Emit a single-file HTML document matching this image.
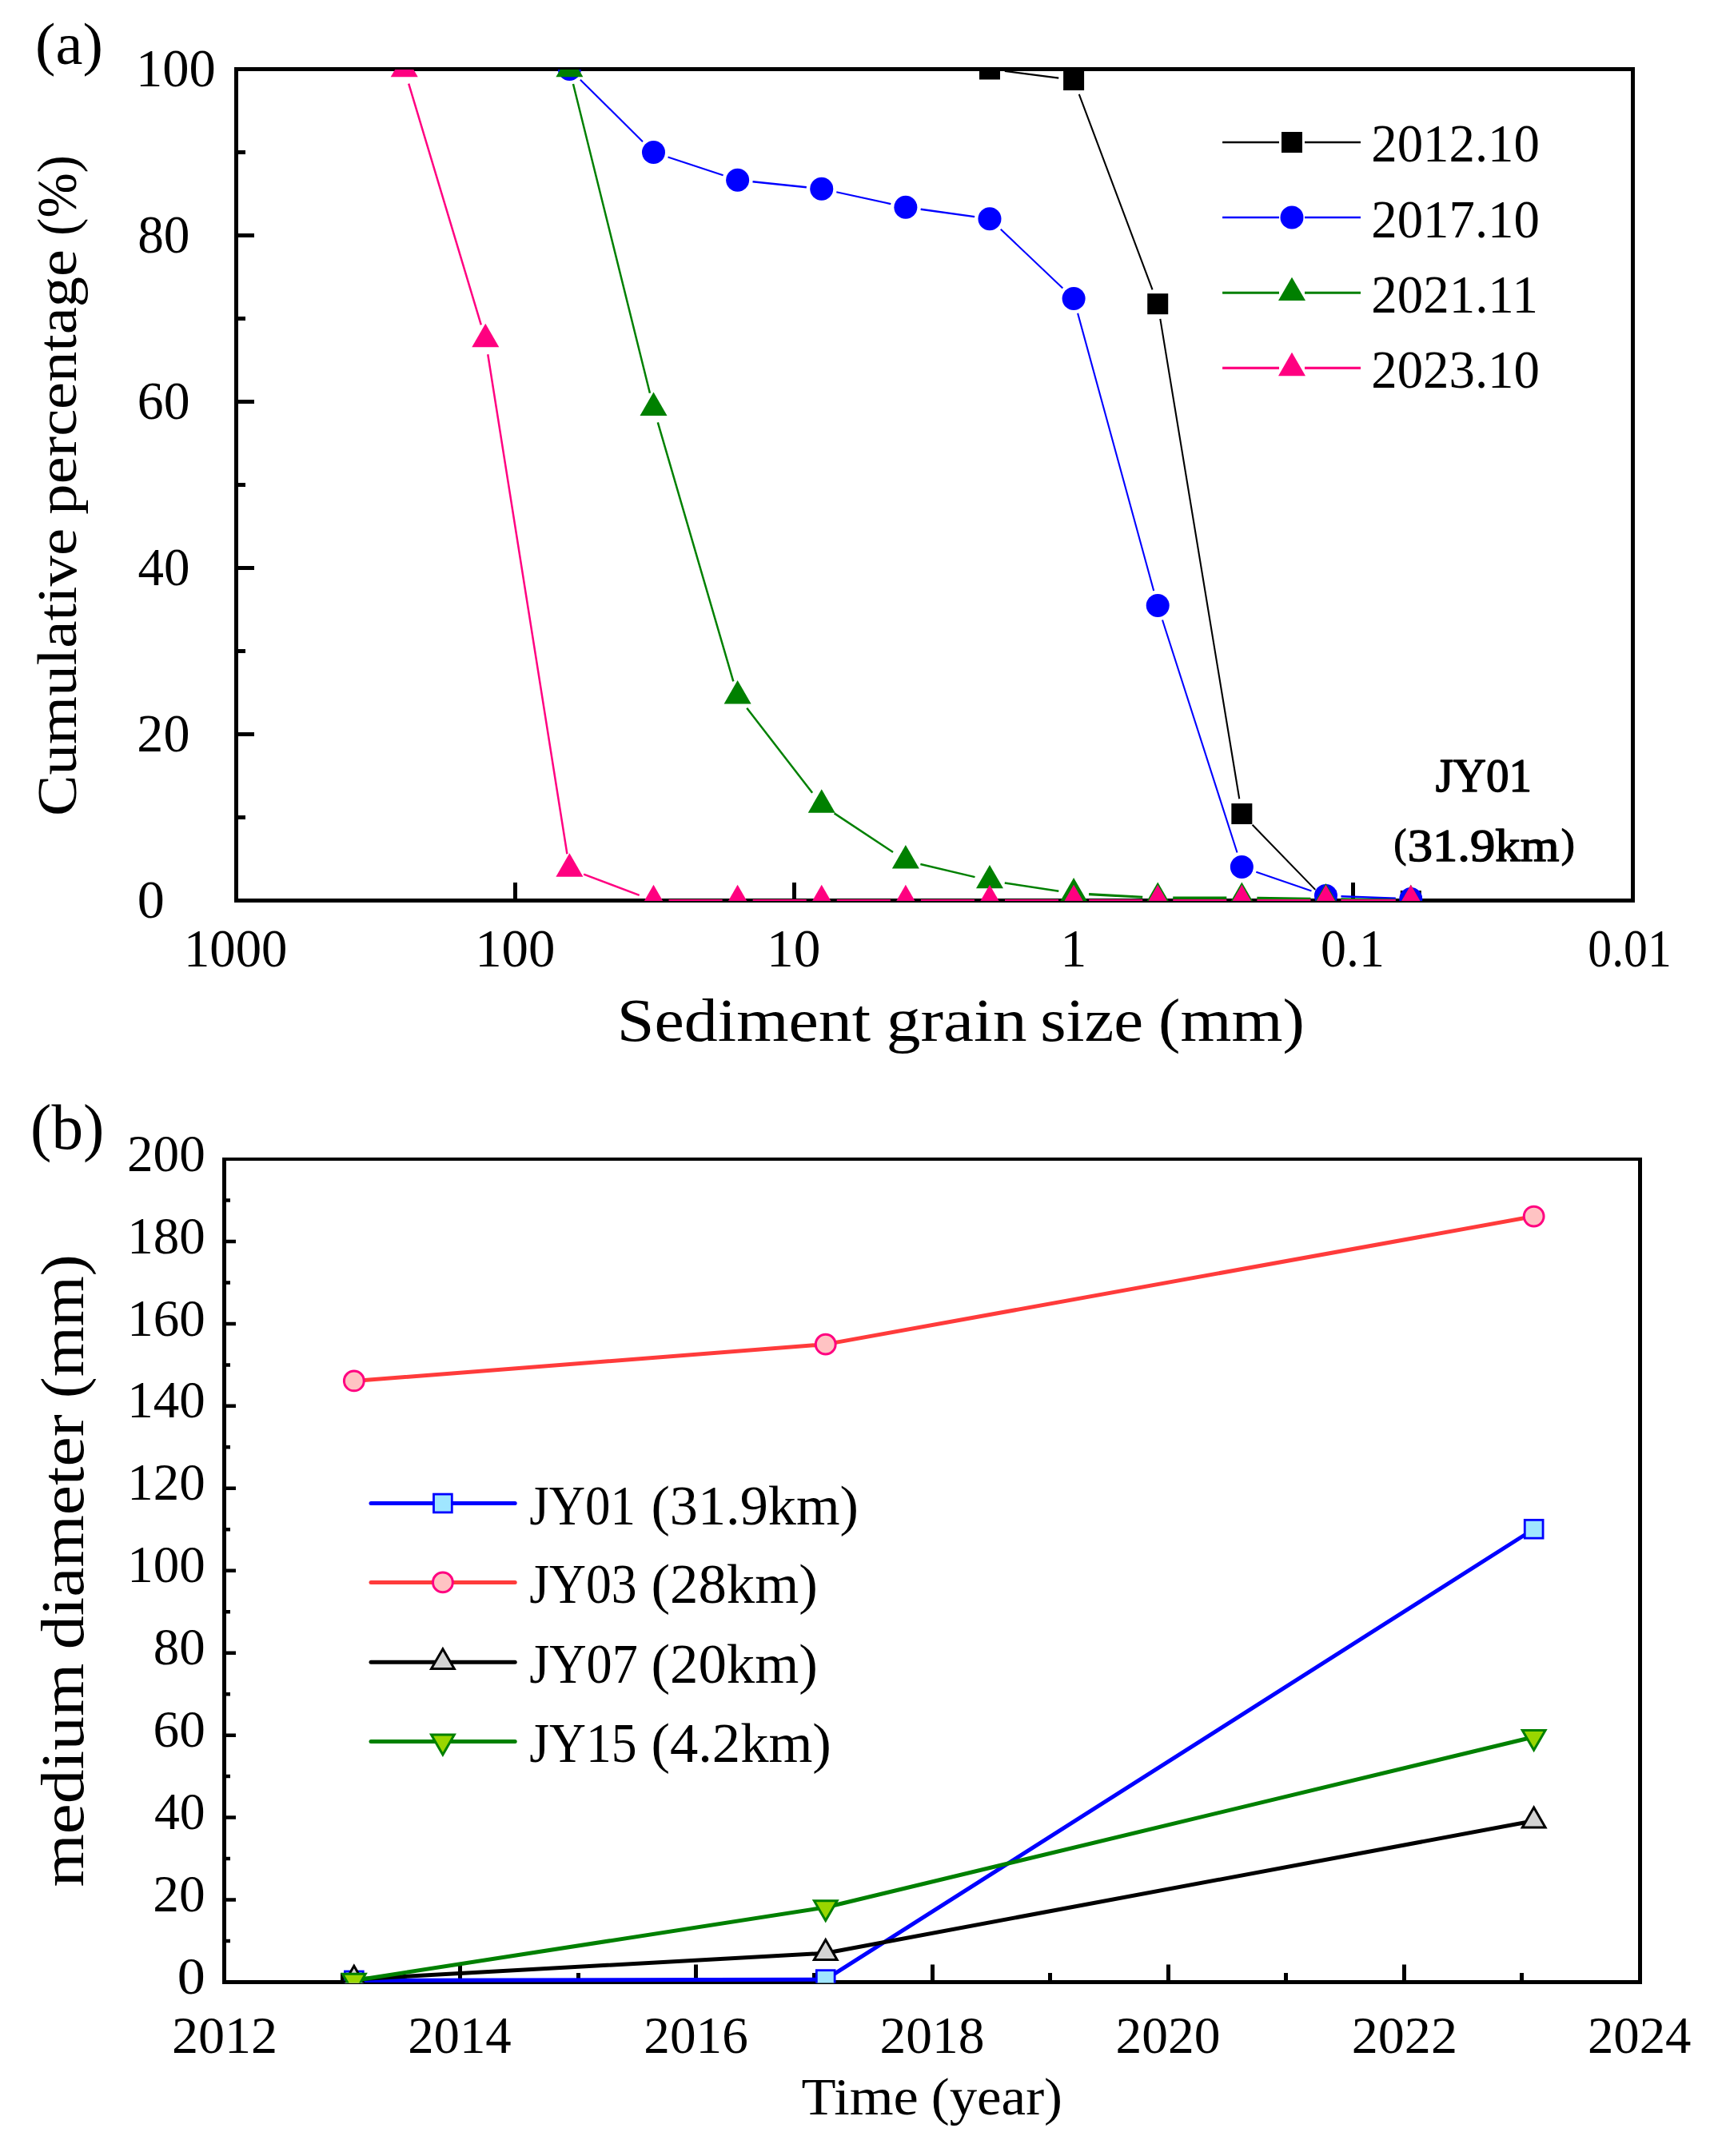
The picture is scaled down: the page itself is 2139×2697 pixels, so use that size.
<!DOCTYPE html><html><head><meta charset="utf-8"><title>Sediment grain size</title><style>html,body{margin:0;padding:0;background:#fff}svg{display:block}text{font-family:"Liberation Serif",serif;fill:#000}</style></head><body>
<svg width="2139" height="2697" viewBox="0 0 2139 2697">
<rect width="2139" height="2697" fill="#fff"/>
<defs><clipPath id="ca"><rect x="295.5" y="87" width="1747.0" height="1040"/></clipPath>
<clipPath id="cb"><rect x="280.5" y="1450.0" width="1771.0" height="1030.5"/></clipPath></defs>
<path d="M293 84H2045V1129H293ZM298 89V1124H2040V89Z" fill="#000" fill-rule="evenodd"/>
<path d="M295.5 1022.50H307.0M295.5 918.50H318.0M295.5 814.50H307.0M295.5 710.50H318.0M295.5 606.50H307.0M295.5 502.50H318.0M295.5 398.50H307.0M295.5 294.50H318.0M295.5 190.50H307.0M644.50 1126.5V1104M993.50 1126.5V1104M1343.50 1126.5V1104M1692.50 1126.5V1104" stroke="#000" stroke-width="5" fill="none"/>
<g clip-path="url(#ca)"><path d="M1349.77 117.81L1441.55 362.41M1451.31 398.94L1550.25 999.28M1566.56 1031.67L1645.24 1112.86" stroke="#000" stroke-width="2.1" fill="none"/><path d="M1256.83 88.92L1324.26 97.60M1677.46 1126.59L1745.80 1126.93" stroke="#000" stroke-width="2.3" fill="none"/>
<rect x="1224.98" y="73.50" width="26" height="26" fill="#000"/>
<rect x="1330.10" y="87.02" width="26" height="26" fill="#000"/>
<rect x="1435.22" y="367.20" width="26" height="26" fill="#000"/>
<rect x="1540.34" y="1005.03" width="26" height="26" fill="#000"/>
<rect x="1645.46" y="1113.50" width="26" height="26" fill="#000"/>
<rect x="1751.80" y="1114.02" width="26" height="26" fill="#000"/>
</g>
<g clip-path="url(#ca)"><path d="M725.89 99.86L803.99 177.14M835.54 196.48L904.59 219.36M1046.31 240.30L1114.30 255.10M1251.76 286.78L1329.32 360.46M1348.12 391.87L1443.20 739.08M1454.03 775.49L1547.53 1066.50M1571.32 1090.74L1640.48 1114.42" stroke="#0000FF" stroke-width="2.1" fill="none"/><path d="M941.52 227.30L1008.84 234.30M1151.68 261.75L1219.16 271.09M1677.45 1121.28L1745.81 1123.82" stroke="#0000FF" stroke-width="2.4" fill="none"/>
<circle cx="712.38" cy="86.50" r="14.5" fill="#0000FF"/>
<circle cx="817.50" cy="190.50" r="14.5" fill="#0000FF"/>
<circle cx="922.62" cy="225.34" r="14.5" fill="#0000FF"/>
<circle cx="1027.74" cy="236.26" r="14.5" fill="#0000FF"/>
<circle cx="1132.86" cy="259.14" r="14.5" fill="#0000FF"/>
<circle cx="1237.98" cy="273.70" r="14.5" fill="#0000FF"/>
<circle cx="1343.10" cy="373.54" r="14.5" fill="#0000FF"/>
<circle cx="1448.22" cy="757.40" r="14.5" fill="#0000FF"/>
<circle cx="1553.34" cy="1084.59" r="14.5" fill="#0000FF"/>
<circle cx="1658.46" cy="1120.57" r="14.5" fill="#0000FF"/>
<circle cx="1764.80" cy="1124.52" r="14.5" fill="#0000FF"/>
</g>
<g clip-path="url(#ca)"><path d="M716.96 104.94L812.93 491.76M822.82 528.44L917.30 852.42M934.23 885.70L1016.13 991.86M1043.58 1017.40L1117.02 1066.08M1151.35 1080.97L1219.49 1097.15M1256.76 1104.42L1324.32 1114.78" stroke="#008000" stroke-width="2.5" fill="none"/><path d="M1362.07 1118.65L1429.25 1122.18M1467.22 1123.17L1534.34 1123.17M1572.34 1123.42L1639.46 1124.28M1677.46 1124.88L1745.80 1126.15" stroke="#008000" stroke-width="3.1" fill="none"/>
<polygon points="712.38,66.87 695.38,96.31 729.38,96.31" fill="#008000"/>
<polygon points="817.50,490.57 800.50,520.01 834.50,520.01" fill="#008000"/>
<polygon points="922.62,851.03 905.62,880.47 939.62,880.47" fill="#008000"/>
<polygon points="1027.74,987.27 1010.74,1016.71 1044.74,1016.71" fill="#008000"/>
<polygon points="1132.86,1056.95 1115.86,1086.39 1149.86,1086.39" fill="#008000"/>
<polygon points="1237.98,1081.91 1220.98,1111.35 1254.98,1111.35" fill="#008000"/>
<polygon points="1343.10,1098.03 1326.10,1127.47 1360.10,1127.47" fill="#008000"/>
<polygon points="1448.22,1103.54 1431.22,1132.99 1465.22,1132.99" fill="#008000"/>
<polygon points="1553.34,1103.54 1536.34,1132.99 1570.34,1132.99" fill="#008000"/>
<polygon points="1658.46,1104.89 1641.46,1134.34 1675.46,1134.34" fill="#008000"/>
<polygon points="1764.80,1106.87 1747.80,1136.31 1781.80,1136.31" fill="#008000"/>
</g>
<g clip-path="url(#ca)"><path d="M511.21 104.70L601.80 406.30M610.24 443.27L709.40 1068.21M730.17 1093.67L799.72 1119.81" stroke="#FF0080" stroke-width="2.5" fill="none"/><path d="M836.50 1126.50L903.62 1126.50M941.62 1126.50L1008.74 1126.50M1046.74 1126.50L1113.86 1126.50M1151.86 1126.50L1218.98 1126.50M1256.98 1126.50L1324.10 1126.50M1362.10 1126.50L1429.22 1126.50M1467.22 1126.50L1534.34 1126.50M1572.34 1126.50L1639.46 1126.50M1677.46 1126.50L1745.80 1126.50" stroke="#FF0080" stroke-width="3.1" fill="none"/>
<polygon points="505.74,66.87 488.74,96.31 522.74,96.31" fill="#FF0080"/>
<polygon points="607.26,404.87 590.26,434.31 624.26,434.31" fill="#FF0080"/>
<polygon points="712.38,1067.35 695.38,1096.79 729.38,1096.79" fill="#FF0080"/>
<polygon points="817.50,1106.87 800.50,1136.31 834.50,1136.31" fill="#FF0080"/>
<polygon points="922.62,1106.87 905.62,1136.31 939.62,1136.31" fill="#FF0080"/>
<polygon points="1027.74,1106.87 1010.74,1136.31 1044.74,1136.31" fill="#FF0080"/>
<polygon points="1132.86,1106.87 1115.86,1136.31 1149.86,1136.31" fill="#FF0080"/>
<polygon points="1237.98,1106.87 1220.98,1136.31 1254.98,1136.31" fill="#FF0080"/>
<polygon points="1343.10,1106.87 1326.10,1136.31 1360.10,1136.31" fill="#FF0080"/>
<polygon points="1448.22,1106.87 1431.22,1136.31 1465.22,1136.31" fill="#FF0080"/>
<polygon points="1553.34,1106.87 1536.34,1136.31 1570.34,1136.31" fill="#FF0080"/>
<polygon points="1658.46,1106.87 1641.46,1136.31 1675.46,1136.31" fill="#FF0080"/>
<polygon points="1764.80,1106.87 1747.80,1136.31 1781.80,1136.31" fill="#FF0080"/>
</g>
<path d="M1529.1 178.0H1600.0M1632.0 178.0H1702.0" stroke="#000" stroke-width="2.3"/>
<rect x="1603.00" y="165.00" width="26" height="26" fill="#000"/>
<text transform="translate(1715.28 202.10) scale(0.9674 1.0000)" font-size="67.00">2012.10</text>
<path d="M1529.1 272.0H1600.0M1632.0 272.0H1702.0" stroke="#0000FF" stroke-width="2.4"/>
<circle cx="1616.00" cy="272.00" r="14.5" fill="#0000FF"/>
<text transform="translate(1715.28 296.50) scale(0.9674 1.0000)" font-size="67.00">2017.10</text>
<path d="M1529.1 366.3H1600.0M1632.0 366.3H1702.0" stroke="#008000" stroke-width="3.1"/>
<polygon points="1616.00,346.67 1599.00,376.11 1633.00,376.11" fill="#008000"/>
<text transform="translate(1715.28 390.90) scale(0.9692 1.0000)" font-size="67.00">2021.11</text>
<path d="M1529.1 460.4H1600.0M1632.0 460.4H1702.0" stroke="#FF0080" stroke-width="3.1"/>
<polygon points="1616.00,440.77 1599.00,470.21 1633.00,470.21" fill="#FF0080"/>
<text transform="translate(1715.28 485.40) scale(0.9674 1.0000)" font-size="67.00">2023.10</text>
<text transform="translate(171.64 1147.50) scale(1.0184 1.0000)" font-size="67.00">0</text>
<text transform="translate(171.32 939.50) scale(0.9874 1.0000)" font-size="67.00">20</text>
<text transform="translate(172.50 731.50) scale(0.9692 1.0000)" font-size="67.00">40</text>
<text transform="translate(171.81 523.50) scale(0.9799 1.0000)" font-size="67.00">60</text>
<text transform="translate(172.15 315.50) scale(0.9746 1.0000)" font-size="67.00">80</text>
<text transform="translate(170.08 107.50) scale(0.9932 1.0000)" font-size="67.00">100</text>
<text transform="translate(229.93 1208.50) scale(0.9664 1.0000)" font-size="67.00">1000</text>
<text transform="translate(594.15 1208.50) scale(0.9976 1.0000)" font-size="67.00">100</text>
<text transform="translate(959.00 1208.50) scale(1.0064 1.0000)" font-size="67.00">10</text>
<text transform="translate(1326.47 1208.50) scale(0.9781 1.0000)" font-size="67.00">1</text>
<text transform="translate(1652.01 1208.50) scale(0.9532 1.0000)" font-size="67.00">0.1</text>
<text transform="translate(1986.36 1208.50) scale(0.8906 1.0000)" font-size="67.00">0.01</text>
<text transform="translate(771.83 1301.50) scale(1.0983 1.0000)" font-size="76.50">Sediment</text>
<text transform="translate(1108.66 1301.50) scale(1.1184 1.0000)" font-size="76.50">grain</text>
<text transform="translate(1301.18 1301.50) scale(1.0846 1.0000)" font-size="76.50">size</text>
<text transform="translate(1449.10 1301.50) scale(1.0752 1.0000)" font-size="76.50">(mm)</text>
<text transform="translate(95.40 1021.09) rotate(-90) scale(1.1037 1)" font-size="70.00">Cumulative</text>
<text transform="translate(95.40 643.65) rotate(-90) scale(1.0942 1)" font-size="70.00">percentage</text>
<text transform="translate(95.40 295.04) rotate(-90) scale(0.9635 1)" font-size="70.00">(%)</text>
<text transform="translate(44.06 79.60) scale(1.0294 1.0000)" font-size="74.20">(a)</text>
<text transform="translate(1795.66 989.81) scale(0.9348 0.9617)" font-size="61.00" stroke="#000" stroke-width="1.5" stroke-linejoin="round">JY01</text>
<text transform="translate(1760.72 1076.75) scale(1.0444 0.9460)" font-size="60.00" stroke="#000" stroke-width="1.5" stroke-linejoin="round">31.9km</text>
<text transform="translate(1743.55 1072.15) scale(0.7974 0.8430)" font-size="60.00" stroke="#000" stroke-width="1.5" stroke-linejoin="round">(</text>
<text transform="translate(1952.83 1072.15) scale(0.8544 0.8430)" font-size="60.00" stroke="#000" stroke-width="1.5" stroke-linejoin="round">)</text>
<path d="M278 1448H2054V2482H278ZM283 1452V2477H2049V1452Z" fill="#000" fill-rule="evenodd"/>
<path d="M280.5 2428.03H288.0M280.5 2376.55H295.0M280.5 2325.07H288.0M280.5 2273.60H295.0M280.5 2222.12H288.0M280.5 2170.65H295.0M280.5 2119.18H288.0M280.5 2067.70H295.0M280.5 2016.22H288.0M280.5 1964.75H295.0M280.5 1913.28H288.0M280.5 1861.80H295.0M280.5 1810.33H288.0M280.5 1758.85H295.0M280.5 1707.38H288.0M280.5 1655.90H295.0M280.5 1604.42H288.0M280.5 1552.95H295.0M280.5 1501.47H288.0" stroke="#000" stroke-width="4.5" fill="none"/>
<path d="M428.50 2479.5V2468.0M575.50 2479.5V2457.5M723.50 2479.5V2468.0M870.50 2479.5V2457.5M1018.50 2479.5V2468.0M1166.50 2479.5V2457.5M1313.50 2479.5V2468.0M1461.50 2479.5V2457.5M1608.50 2479.5V2468.0M1756.50 2479.5V2457.5M1903.50 2479.5V2468.0" stroke="#000" stroke-width="5" fill="none"/>
<g clip-path="url(#cb)">
<polyline points="442.84,2477.44 1032.73,2476.10 1918.67,1912.76" fill="none" stroke="#0000FF" stroke-width="5" stroke-linejoin="round"/>
<rect x="431.44" y="2466.04" width="22.8" height="22.8" fill="#A0E6FF" stroke="#0000FF" stroke-width="2.8"/>
<rect x="1021.33" y="2464.70" width="22.8" height="22.8" fill="#A0E6FF" stroke="#0000FF" stroke-width="2.8"/>
<rect x="1907.27" y="1901.36" width="22.8" height="22.8" fill="#A0E6FF" stroke="#0000FF" stroke-width="2.8"/>
<polyline points="442.84,1727.45 1032.73,1681.64 1918.67,1521.55" fill="none" stroke="#FF3B3B" stroke-width="5" stroke-linejoin="round"/>
<circle cx="442.84" cy="1727.45" r="12.4" fill="#FFC3C3" stroke="#FF0080" stroke-width="3"/>
<circle cx="1032.73" cy="1681.64" r="12.4" fill="#FFC3C3" stroke="#FF0080" stroke-width="3"/>
<circle cx="1918.67" cy="1521.55" r="12.4" fill="#FFC3C3" stroke="#FF0080" stroke-width="3"/>
<polyline points="442.84,2475.90 1032.73,2443.21 1918.67,2277.72" fill="none" stroke="#000" stroke-width="5" stroke-linejoin="round"/>
<polygon points="442.84,2459.27 428.44,2484.21 457.24,2484.21" fill="#D3D3D3" stroke="#000" stroke-width="3"/>
<polygon points="1032.73,2426.58 1018.33,2451.52 1047.13,2451.52" fill="#D3D3D3" stroke="#000" stroke-width="3"/>
<polygon points="1918.67,2261.09 1904.27,2286.03 1933.07,2286.03" fill="#D3D3D3" stroke="#000" stroke-width="3"/>
<polyline points="442.84,2477.44 1032.73,2385.97 1918.67,2172.71" fill="none" stroke="#008000" stroke-width="5" stroke-linejoin="round"/>
<polygon points="442.84,2494.07 428.44,2469.13 457.24,2469.13" fill="#99D600" stroke="#008000" stroke-width="3"/>
<polygon points="1032.73,2402.60 1018.33,2377.66 1047.13,2377.66" fill="#99D600" stroke="#008000" stroke-width="3"/>
<polygon points="1918.67,2189.34 1904.27,2164.40 1933.07,2164.40" fill="#99D600" stroke="#008000" stroke-width="3"/>
</g>
<path d="M464 1880.5H644.2" stroke="#0000FF" stroke-width="5" stroke-linecap="round"/>
<rect x="542.50" y="1869.10" width="22.8" height="22.8" fill="#A0E6FF" stroke="#0000FF" stroke-width="2.8"/>
<text transform="translate(662.24 1906.70) scale(0.9106 1.0000)" font-size="69.00">JY01</text>
<text transform="translate(814.44 1906.70) scale(1.0187 1.0000)" font-size="69.00">(31.9km)</text>
<path d="M464 1979.4H644.2" stroke="#FF3B3B" stroke-width="5" stroke-linecap="round"/>
<circle cx="553.90" cy="1979.40" r="12.4" fill="#FFC3C3" stroke="#FF0080" stroke-width="3"/>
<text transform="translate(662.23 2005.20) scale(0.9229 1.0000)" font-size="69.00">JY03</text>
<text transform="translate(814.41 2005.20) scale(1.0269 1.0000)" font-size="69.00">(28km)</text>
<path d="M464 2079.3H644.2" stroke="#000" stroke-width="5" stroke-linecap="round"/>
<polygon points="553.90,2062.67 539.50,2087.61 568.30,2087.61" fill="#D3D3D3" stroke="#000" stroke-width="3"/>
<text transform="translate(662.22 2104.70) scale(0.9310 1.0000)" font-size="69.00">JY07</text>
<text transform="translate(814.41 2104.70) scale(1.0269 1.0000)" font-size="69.00">(20km)</text>
<path d="M464 2178.4H644.2" stroke="#008000" stroke-width="5" stroke-linecap="round"/>
<polygon points="553.90,2195.03 539.50,2170.09 568.30,2170.09" fill="#99D600" stroke="#008000" stroke-width="3"/>
<text transform="translate(662.23 2203.70) scale(0.9229 1.0000)" font-size="69.00">JY15</text>
<text transform="translate(814.42 2203.70) scale(1.0231 1.0000)" font-size="69.00">(4.2km)</text>
<text transform="translate(221.87 2494.10) scale(1.0705 1.0000)" font-size="65.50">0</text>
<text transform="translate(191.36 2391.15) scale(0.9984 1.0000)" font-size="65.50">20</text>
<text transform="translate(193.03 2288.20) scale(0.9719 1.0000)" font-size="65.50">40</text>
<text transform="translate(191.53 2185.25) scale(0.9957 1.0000)" font-size="65.50">60</text>
<text transform="translate(191.87 2082.30) scale(0.9903 1.0000)" font-size="65.50">80</text>
<text transform="translate(159.21 1979.35) scale(0.9926 1.0000)" font-size="65.50">100</text>
<text transform="translate(159.21 1876.40) scale(0.9926 1.0000)" font-size="65.50">120</text>
<text transform="translate(159.21 1773.45) scale(0.9926 1.0000)" font-size="65.50">140</text>
<text transform="translate(159.21 1670.50) scale(0.9926 1.0000)" font-size="65.50">160</text>
<text transform="translate(159.21 1567.55) scale(0.9926 1.0000)" font-size="65.50">180</text>
<text transform="translate(158.97 1464.60) scale(0.9952 1.0000)" font-size="65.50">200</text>
<text transform="translate(214.93 2567.50) scale(1.0092 1.0000)" font-size="65.50">2012</text>
<text transform="translate(510.15 2567.50) scale(0.9884 1.0000)" font-size="65.50">2014</text>
<text transform="translate(805.30 2567.50) scale(0.9961 1.0000)" font-size="65.50">2016</text>
<text transform="translate(1100.45 2567.50) scale(1.0000 1.0000)" font-size="65.50">2018</text>
<text transform="translate(1395.62 2567.50) scale(1.0000 1.0000)" font-size="65.50">2020</text>
<text transform="translate(1690.76 2567.50) scale(1.0092 1.0000)" font-size="65.50">2022</text>
<text transform="translate(1985.99 2567.50) scale(0.9884 1.0000)" font-size="65.50">2024</text>
<text transform="translate(1002.57 2644.50) scale(1.0636 1.0000)" font-size="66.30">Time</text>
<text transform="translate(1164.70 2644.50) scale(1.0388 1.0000)" font-size="66.30">(year)</text>
<text transform="translate(104.00 2360.61) rotate(-90) scale(1.1274 1)" font-size="75.80">medium</text>
<text transform="translate(104.00 2063.14) rotate(-90) scale(1.1085 1)" font-size="75.80">diameter</text>
<text transform="translate(104.00 1749.15) rotate(-90) scale(1.0690 1)" font-size="75.80">(mm)</text>
<text transform="translate(38.03 1436.70) scale(0.9882 1.0000)" font-size="80.20">(b)</text>
</svg></body></html>
